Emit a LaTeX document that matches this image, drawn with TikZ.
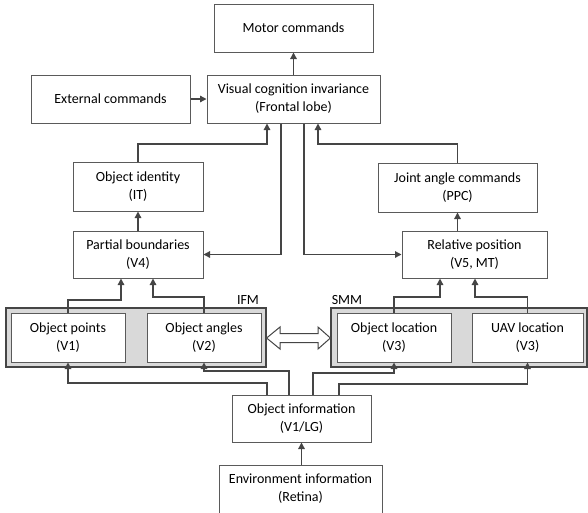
\documentclass[tikz,border=0pt]{standalone}
\usepackage{fontspec}
\setmainfont{Carlito}
\usetikzlibrary{arrows.meta}
\definecolor{lc}{HTML}{454545}
\definecolor{bc}{HTML}{5A5A5A}
\definecolor{gf}{HTML}{D9D9D9}
\begin{document}
\begin{tikzpicture}[x=1pt,y=-1pt,
  box/.style={draw=bc, line width=1pt, fill=white, inner sep=0pt, align=center,
    font=\fontsize{14}{18}\selectfont},
  grp/.style={draw=lc, line width=1.2pt, fill=gf, inner sep=0pt},
  arr/.style={draw=lc, line width=1.3pt, -{Triangle[length=6.5pt,width=6.5pt]}},
  lbl/.style={font=\fontsize{14}{18}\selectfont, inner sep=0pt}]
\useasboundingbox (0,0) rectangle (588,512);
% groups
\node[grp, minimum width=260pt, minimum height=59pt] (ifm) at (136,337.5) {};
\node[grp, minimum width=256pt, minimum height=59pt] (smm) at (459,337.5) {};
\node[lbl] (ifml) at (248,300) {IFM};
\node[lbl] (smml) at (347,300) {SMM};
% boxes
\node[box, minimum width=159pt, minimum height=48pt] (motor) at (293.5,28) {Motor commands};
\node[box, minimum width=159pt, minimum height=48pt] (ext) at (110.5,99) {External commands};
\node[box, minimum width=173pt, minimum height=48pt] (vis) at (293.5,99) {Visual cognition invariance\\(Frontal lobe)};
\node[box, minimum width=130pt, minimum height=49pt] (oid) at (138,186.5) {Object identity\\(IT)};
\node[box, minimum width=159pt, minimum height=49pt] (jac) at (457.5,187.5) {Joint angle commands\\(PPC)};
\node[box, minimum width=130pt, minimum height=47pt] (pb) at (138,254.5) {Partial boundaries\\(V4)};
\node[box, minimum width=145pt, minimum height=47pt] (rp) at (474.5,254.5) {Relative position\\(V5, MT)};
\node[box, minimum width=114pt, minimum height=49pt] (op) at (68,337.5) {Object points\\(V1)};
\node[box, minimum width=114pt, minimum height=49pt] (oa) at (204,337.5) {Object angles\\(V2)};
\node[box, minimum width=114pt, minimum height=49pt] (ol) at (394,337.5) {Object location\\(V3)};
\node[box, minimum width=111pt, minimum height=49pt] (uav) at (527.5,337.5) {UAV location\\(V3)};
\node[box, minimum width=139pt, minimum height=47pt] (oi) at (301.5,418.5) {Object information\\(V1/LG)};
\node[box, minimum width=163pt, minimum height=48pt] (env) at (300.5,489) {Environment information\\(Retina)};
% double hollow arrow
\draw[draw=lc, line width=1pt, fill=white] (ifm.east |- 0,338) -- (280,327) -- (280,333.5) -- (318,333.5) -- (318,327) -- (smm.west |- 0,338) -- (318,349) -- (318,342.5) -- (280,342.5) -- (280,349) -- cycle;
% connectors
\draw[arr] (vis.north) -- (motor.south);
\draw[arr] (ext.east) -- (vis.west);
\draw[arr] (oid.north) |- (267,144) -- (vis.south -| 267,0);
\draw[arr] (jac.north) |- (318,144) -- (vis.south -| 318,0);
\draw[arr] (vis.south -| 281,0) |- (pb.east);
\draw[arr] (vis.south -| 304,0) |- (rp.west);
\draw[arr] (pb.north) -- (oid.south);
\draw[arr] (rp.north -| jac.south) -- (jac.south);
\draw[arr] (op.north) |- (121,300) -- (pb.south -| 121,0);
\draw[arr] (oa.north) |- (153,297) -- (pb.south -| 153,0);
\draw[arr] (ol.north) |- (440,297) -- (rp.south -| 440,0);
\draw[arr] (uav.north) |- (475,297) -- (rp.south -| 475,0);
\draw[arr] (oi.north -| 267,0) |- (68,383) -- (op.south);
\draw[arr] (oi.north -| 289,0) |- (204,371) -- (oa.south);
\draw[arr] (oi.north -| 313,0) |- (394,373) -- (ol.south);
\draw[arr] (oi.north -| 339,0) |- (527.5,384) -- (uav.south);
\draw[arr] (env.north -| oi.south) -- (oi.south);
\end{tikzpicture}
\end{document}
